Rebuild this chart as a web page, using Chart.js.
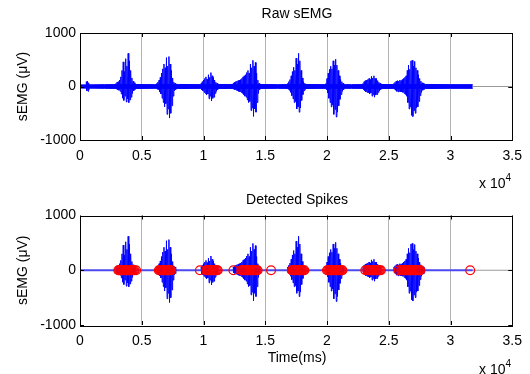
<!DOCTYPE html>
<html lang="en">
<head>
<meta charset="UTF-8">
<title>Raw sEMG / Detected Spikes</title>
<script src="https://cdn.jsdelivr.net/npm/chart.js"></script>
<style>
  body { margin: 0; background: #fff; font-family: "Liberation Sans", Arial, sans-serif; }
  .fig { position: relative; width: 530px; height: 374px; overflow: hidden; background: #fff; }
  .panel { position: absolute; left: 0; }
  .txt { position: absolute; font-size: 14px; line-height: 16px; color: #000; white-space: nowrap; }
  .ctr { transform: translateX(-50%); }
  .txt sup { font-size: 10px; vertical-align: baseline; position: relative; top: -7px; }
</style>
</head>
<body>
<div class="fig">
  <canvas id="rawChart" class="panel" style="top:0" width="530" height="170"></canvas>
  <canvas id="spikeChart" class="panel" style="top:182px" width="530" height="192"></canvas>
  <div class="txt ctr" style="left:297px; top:5px">Raw sEMG</div>
  <div class="txt" style="left:479px; top:175px">x 10<sup>4</sup></div>
  <div class="txt ctr" style="left:297px; top:191px">Detected Spikes</div>
  <div class="txt ctr" style="left:297px; top:349px">Time(ms)</div>
  <div class="txt" style="left:479px; top:361px">x 10<sup>4</sup></div>
</div>

<script>
// x ticks (ms), labels shown in units of 10^4
const xTicks = [0, 5000, 10000, 15000, 20000, 25000, 30000, 35000];
const yTicks = [-1000, 0, 1000];

// burst envelope: time (ms), upper and lower excursion (uV)
const envT = [500, 600, 700,
  2900, 3000, 3100, 3200, 3300, 3400, 3500, 3600, 3700, 3800, 3900, 4000, 4100, 4200, 4300, 4400,
  6200, 6300, 6400, 6500, 6600, 6700, 6800, 6900, 7000, 7100, 7200, 7300, 7400, 7500, 7600, 7700,
  9800, 9900, 10000, 10100, 10200, 10300, 10400, 10500, 10600, 10700, 10800, 10900, 11000, 11100,
  12400, 12500, 12600, 12700, 12800, 12900, 13000, 13100, 13200, 13300, 13400, 13500, 13600, 13700, 13800, 13900, 14000, 14100, 14200, 14300, 14400, 14500,
  16800, 16900, 17000, 17100, 17200, 17300, 17400, 17500, 17600, 17700, 17800, 17900, 18000, 18100, 18200,
  19900, 20000, 20100, 20200, 20300, 20400, 20500, 20600, 20700, 20800, 20900, 21000, 21100, 21200, 21300,
  22900, 23000, 23100, 23200, 23300, 23400, 23500, 23600, 23700, 23800, 23900, 24000, 24100, 24200, 24300,
  25400, 25500, 25600, 25700, 25800, 25900, 26000, 26100, 26200, 26300, 26400, 26500, 26600, 26700, 26800, 26900, 27000, 27100, 27200, 27300, 27400, 27500, 27600, 27700, 27800];
const envHi = [90, 100, 70,
  60, 80, 90, 120, 180, 300, 460, 280, 520, 380, 620, 480, 300, 160, 100, 70,
  60, 80, 120, 170, 250, 330, 420, 350, 540, 380, 560, 420, 300, 160, 80, 60,
  60, 90, 120, 150, 180, 140, 220, 170, 260, 200, 170, 120, 80, 60,
  60, 80, 90, 100, 110, 120, 130, 150, 180, 200, 220, 260, 300, 250, 420, 350, 490, 380, 450, 250, 120, 60,
  60, 90, 130, 200, 280, 360, 300, 530, 420, 620, 480, 300, 160, 90, 60,
  60, 150, 250, 320, 380, 330, 480, 400, 510, 400, 300, 200, 130, 90, 60,
  60, 90, 110, 120, 130, 150, 130, 190, 160, 200, 150, 150, 110, 80, 60,
  60, 80, 100, 110, 100, 120, 110, 130, 150, 170, 200, 300, 400, 320, 480, 490, 380, 470, 350, 300, 220, 150, 100, 70, 60];
const envLo = [-80, -90, -60,
  -50, -60, -70, -90, -140, -220, -260, -180, -290, -230, -300, -250, -200, -130, -80, -60,
  -50, -60, -100, -140, -220, -300, -380, -320, -520, -420, -590, -500, -360, -180, -80, -60,
  -60, -80, -110, -130, -160, -140, -230, -180, -270, -220, -200, -130, -90, -60,
  -50, -60, -70, -80, -90, -100, -110, -130, -150, -180, -200, -250, -300, -280, -450, -400, -560, -420, -480, -300, -130, -60,
  -50, -70, -110, -170, -230, -300, -280, -420, -380, -480, -400, -260, -150, -80, -60,
  -60, -120, -220, -300, -380, -340, -520, -430, -570, -480, -360, -240, -150, -90, -60,
  -60, -80, -100, -110, -120, -140, -120, -180, -150, -200, -160, -150, -110, -80, -60,
  -50, -70, -90, -100, -90, -100, -100, -110, -130, -150, -180, -300, -420, -380, -540, -560, -450, -500, -400, -380, -280, -170, -110, -70, -60];

// background noise band of the raw trace
const noiseT = [0, 2000, 4000, 6000, 8000, 10000, 12000, 14000, 16000, 18000, 20000, 22000, 24000, 26000, 28000, 30000, 31800];
const noiseAmp = [30, 35, 38, 35, 38, 35, 38, 38, 35, 38, 35, 35, 38, 35, 38, 35, 35];
const signalEnd = 31800;

// detected spike times (ms)
const spikeT = [
  3100, 3170, 3250, 3330, 3400, 3480, 3560, 3640, 3710, 3790, 3870, 3950, 4030, 4100, 4180, 4260, 4340, 4420, 4540,
  6380, 6450, 6530, 6610, 6690, 6770, 6840, 6920, 7000, 7080, 7160, 7240, 7310, 7390,
  9710,
  10220, 10290, 10370, 10450, 10530, 10610, 10690, 10760, 10840, 10920, 11000, 11080, 11150,
  12420,
  13060, 13140, 13220, 13300, 13370, 13450, 13530, 13610, 13690, 13770, 13840, 13920, 14000, 14080, 14160, 14240, 14310, 14380,
  15470,
  17150, 17220, 17300, 17380, 17460, 17540, 17610, 17690, 17770, 17850, 17930, 18010, 18090, 18170,
  20000, 20080, 20160, 20240, 20310, 20390, 20470, 20550, 20630, 20700, 20780, 20860, 20940, 21020, 21100, 21180, 21250,
  23100, 23260, 23340, 23420, 23500, 23570, 23650, 23730, 23810, 23890, 23960, 24040, 24120, 24200, 24280, 24360,
  25800, 26000, 26080, 26160, 26240, 26310, 26390, 26470, 26550, 26630, 26710, 26780, 26860, 26940, 27020, 27100, 27180, 27250, 27330, 27410, 27490, 27570,
  31590];

const BLUE = '#0000ff';
const FONT = { family: '"Liberation Sans", Arial, sans-serif', size: 14 };

// trace through the envelope: each sample goes up to hi then down to lo
function burstPoints(fromT) {
  const pts = [];
  let prev = null;
  for (let i = 0; i < envT.length; i++) {
    if (envT[i] < fromT) continue;
    if (prev !== null && envT[i] - prev > 100) pts.push({ x: prev + 60, y: null });
    pts.push({ x: envT[i], y: envHi[i] });
    pts.push({ x: envT[i] + 50, y: envLo[i] });
    prev = envT[i];
  }
  return pts;
}

// MATLAB style box with inward tick marks
const boxPlugin = {
  id: 'box',
  afterDraw(chart) {
    const { ctx, chartArea: a, scales } = chart;
    ctx.save();
    ctx.strokeStyle = '#000';
    ctx.lineWidth = 1;
    ctx.beginPath();
    xTicks.forEach(v => {
      const px = Math.round(scales.x.getPixelForValue(v)) + 0.5;
      ctx.moveTo(px, a.top); ctx.lineTo(px, a.top + 4);
      ctx.moveTo(px, a.bottom); ctx.lineTo(px, a.bottom - 4);
    });
    yTicks.forEach(v => {
      const py = Math.round(scales.y.getPixelForValue(v)) + 0.5;
      ctx.moveTo(a.left, py); ctx.lineTo(a.left + 4, py);
      ctx.moveTo(a.right, py); ctx.lineTo(a.right - 4, py);
    });
    ctx.stroke();
    ctx.strokeRect(Math.round(a.left) + 0.5, Math.round(a.top) + 0.5,
      Math.round(a.right - a.left), Math.round(a.bottom - a.top));
    ctx.restore();
  }
};

function makeOptions(padTop, xHeight) {
  return {
    responsive: false,
    animation: false,
    events: [],
    layout: { padding: { top: padTop, right: 15, left: 0, bottom: 0 } },
    plugins: { legend: { display: false }, tooltip: { enabled: false } },
    scales: {
      x: {
        type: 'linear', min: 0, max: 35000,
        afterBuildTicks: s => { s.ticks = xTicks.map(v => ({ value: v })); },
        afterFit: s => { s.height = xHeight; },
        ticks: { color: '#000', font: FONT, padding: 8, maxRotation: 0,
                 callback: v => String(v / 10000) },
        grid: { color: '#b4b4b4', lineWidth: 1, drawTicks: false },
        border: { display: false }
      },
      y: {
        min: -1000, max: 1000,
        afterBuildTicks: s => { s.ticks = yTicks.map(v => ({ value: v })); },
        afterFit: s => { s.width = 80; },
        ticks: { color: '#000', font: FONT, padding: 4, callback: v => String(v) },
        grid: { display: false, drawTicks: false },
        border: { display: false },
        title: { display: true, text: 'sEMG (\u03BCV)', color: '#000', font: FONT, padding: { top: 15, bottom: 0 } }
      }
    }
  };
}

const tail = [{ x: signalEnd, y: 0 }, { x: 35000, y: 0 }];

new Chart(document.getElementById('rawChart'), {
  type: 'line',
  data: {
    datasets: [
      { data: burstPoints(0), borderColor: BLUE, borderWidth: 1, pointRadius: 0, spanGaps: false, tension: 0 },
      { data: noiseT.map((t, i) => ({ x: t, y: noiseAmp[i] })), borderColor: BLUE, borderWidth: 1,
        backgroundColor: BLUE, fill: '+1', pointRadius: 0 },
      { data: noiseT.map((t, i) => ({ x: t, y: -noiseAmp[i] })), borderColor: BLUE, borderWidth: 1, pointRadius: 0 },
      { data: tail, borderColor: '#9a9a9a', borderWidth: 1, pointRadius: 0 }
    ]
  },
  options: makeOptions(33, 30),
  plugins: [boxPlugin]
});

new Chart(document.getElementById('spikeChart'), {
  type: 'line',
  data: {
    datasets: [
      { data: spikeT.map(t => ({ x: t, y: 0 })), showLine: false, pointStyle: 'circle', pointRadius: 4.4,
        pointBorderWidth: 1.3, pointBorderColor: '#ff0000', pointBackgroundColor: 'rgba(0,0,0,0)' },
      { data: burstPoints(2000), borderColor: BLUE, borderWidth: 1, pointRadius: 0, spanGaps: false, tension: 0 },
      { data: [{ x: 0, y: 0 }, { x: signalEnd, y: 0 }], borderColor: '#4a4af0', borderWidth: 2, pointRadius: 0 },
      { data: tail, borderColor: '#9a9a9a', borderWidth: 1, pointRadius: 0 }
    ]
  },
  options: makeOptions(33.5, 49),
  plugins: [boxPlugin]
});
</script>
</body>
</html>
